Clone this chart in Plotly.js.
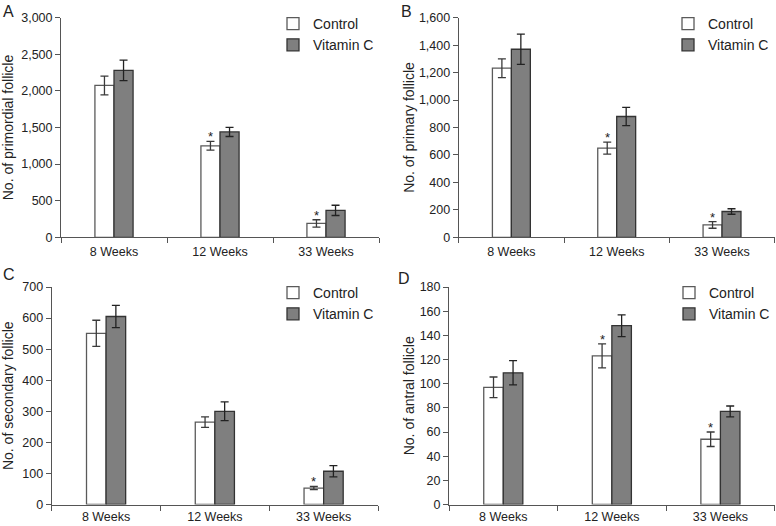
<!DOCTYPE html>
<html>
<head>
<meta charset="utf-8">
<script src="https://cdn.plot.ly/plotly-3.0.1.min.js"></script>
<style>html,body{margin:0;padding:0;background:#fff;}#chart{width:776px;height:526px;}</style>
</head>
<body>
<div id="chart"></div>
<script>
// ---- data ----
const categories = ['8 Weeks', '12 Weeks', '33 Weeks'];
const seriesNames = ['Control', 'Vitamin C'];

const primordialControl = [2075, 1250, 190];
const primordialControlErr = [128, 60, 50];
const primordialVitC = [2280, 1440, 368];
const primordialVitCErr = [140, 63, 70];
const primordialSig = [false, true, true];

const primaryControl = [1232, 650, 90];
const primaryControlErr = [68, 44, 24];
const primaryVitC = [1370, 880, 188];
const primaryVitCErr = [110, 66, 20];
const primarySig = [false, true, true];

const secondaryControl = [551, 265, 53];
const secondaryControlErr = [42, 17, 5];
const secondaryVitC = [605, 300, 107];
const secondaryVitCErr = [36, 30, 18];
const secondarySig = [false, false, true];

const antralControl = [97, 123, 54];
const antralControlErr = [8.5, 10, 6];
const antralVitC = [109, 148, 77];
const antralVitCErr = [10, 9, 4.5];
const antralSig = [false, true, true];

const panelLetters = ['A', 'B', 'C', 'D'];
const yTitles = ['No. of primordial follicle', 'No. of primary follicle', 'No. of secondary follicle', 'No. of antral follicle'];
const yMax = [3000, 1600, 700, 180];
const yStep = [500, 200, 100, 20];

// ---- layout constants ----
const W = 776, H = 526;
const FONT = 'Liberation Sans, Arial, sans-serif';
const TEXT = '#222';
const AXIS = '#555';
const BARGAP = 0.64;
const px = v => v / W;
const py = v => 1 - v / H;

const panels = [
  {ctl: primordialControl, ctlE: primordialControlErr, vit: primordialVitC, vitE: primordialVitCErr, sig: primordialSig,
   x: [px(61), px(379)], y: [py(237.3), py(17.7)], letter: [1, 1], leg: [273, 8], standoff: 5, xstand: 3},
  {ctl: primaryControl, ctlE: primaryControlErr, vit: primaryVitC, vitE: primaryVitCErr, sig: primarySig,
   x: [px(458.7), px(774.7)], y: [py(237.3), py(17.7)], letter: [399, 1], leg: [668, 8], standoff: 1, xstand: 3},
  {ctl: secondaryControl, ctlE: secondaryControlErr, vit: secondaryVitC, vitE: secondaryVitCErr, sig: secondarySig,
   x: [px(51.7), px(378)], y: [py(504.5), py(287)], letter: [1, 264], leg: [273, 277], standoff: 5, xstand: 0},
  {ctl: antralControl, ctlE: antralControlErr, vit: antralVitC, vitE: antralVitCErr, sig: antralSig,
   x: [px(449), px(774.7)], y: [py(504.5), py(287)], letter: [396, 268], leg: [669, 277], standoff: 1, xstand: 0}
];

const data = [];
const layout = {
  width: W, height: H,
  margin: {l: 0, r: 0, t: 0, b: 0},
  paper_bgcolor: '#fff', plot_bgcolor: '#fff',
  font: {family: FONT, size: 13, color: TEXT},
  barmode: 'group', bargap: BARGAP, bargroupgap: 0,
  annotations: []
};

panels.forEach((p, i) => {
  const n = i + 1;
  const xa = 'x' + (n === 1 ? '' : n), ya = 'y' + (n === 1 ? '' : n);
  const legName = 'legend' + (n === 1 ? '' : n);
  data.push({
    type: 'bar', name: seriesNames[0], x: categories, y: p.ctl,
    xaxis: xa, yaxis: ya, legend: legName, offsetgroup: 'c',
    marker: {color: '#ffffff', line: {color: '#5a5a5a', width: 1.3}},
    error_y: {type: 'data', array: p.ctlE, visible: true, color: '#3a3a3a', thickness: 1.3, width: 4}
  });
  data.push({
    type: 'bar', name: seriesNames[1], x: categories, y: p.vit,
    xaxis: xa, yaxis: ya, legend: legName, offsetgroup: 'v',
    marker: {color: '#7f7f7f', line: {color: '#333333', width: 1.3}},
    error_y: {type: 'data', array: p.vitE, visible: true, color: '#222222', thickness: 1.3, width: 4}
  });
  layout['xaxis' + (n === 1 ? '' : n)] = {
    domain: p.x, anchor: ya, type: 'category', range: [-0.5, 2.5],
    showline: true, linecolor: AXIS, linewidth: 1,
    ticks: 'outside', tickson: 'boundaries', ticklen: 5, tickcolor: AXIS, tickwidth: 1,
    ticklabelstandoff: p.xstand,
    showgrid: false, zeroline: false, fixedrange: true,
    tickfont: {family: FONT, size: 12.5, color: TEXT}
  };
  layout['yaxis' + (n === 1 ? '' : n)] = {
    domain: p.y, anchor: xa, range: [0, yMax[i]], dtick: yStep[i], tick0: 0,
    tickformat: ',d',
    showline: true, linecolor: AXIS, linewidth: 1,
    ticks: 'outside', ticklen: 5, tickcolor: AXIS, tickwidth: 1,
    showgrid: false, zeroline: false, fixedrange: true,
    tickfont: {family: FONT, size: 12.5, color: TEXT},
    title: {text: yTitles[i], font: {family: FONT, size: 14, color: TEXT}, standoff: p.standoff}
  };
  layout[legName] = {
    x: px(p.leg[0]), y: py(p.leg[1]), xanchor: 'left', yanchor: 'top',
    xref: 'paper', yref: 'paper',
    bgcolor: 'rgba(0,0,0,0)', borderwidth: 0,
    font: {family: FONT, size: 14, color: TEXT}, traceorder: 'normal',
    tracegroupgap: 0
  };
  layout.annotations.push({
    xref: 'paper', yref: 'paper', x: px(p.letter[0]), y: py(p.letter[1]),
    xanchor: 'left', yanchor: 'top', showarrow: false, text: panelLetters[i],
    font: {family: FONT, size: 16, color: TEXT}
  });
  const barW = (1 - BARGAP) / 2;
  p.sig.forEach((s, k) => {
    if (!s) return;
    layout.annotations.push({
      xref: xa, yref: ya, x: k - barW / 2, y: p.ctl[k] + p.ctlE[k],
      xanchor: 'center', yanchor: 'bottom', yshift: -5, showarrow: false, text: '*',
      font: {family: FONT, size: 13, color: TEXT}
    });
  });
});

Plotly.newPlot('chart', data, layout, {displayModeBar: false, staticPlot: true});
</script>
</body>
</html>
